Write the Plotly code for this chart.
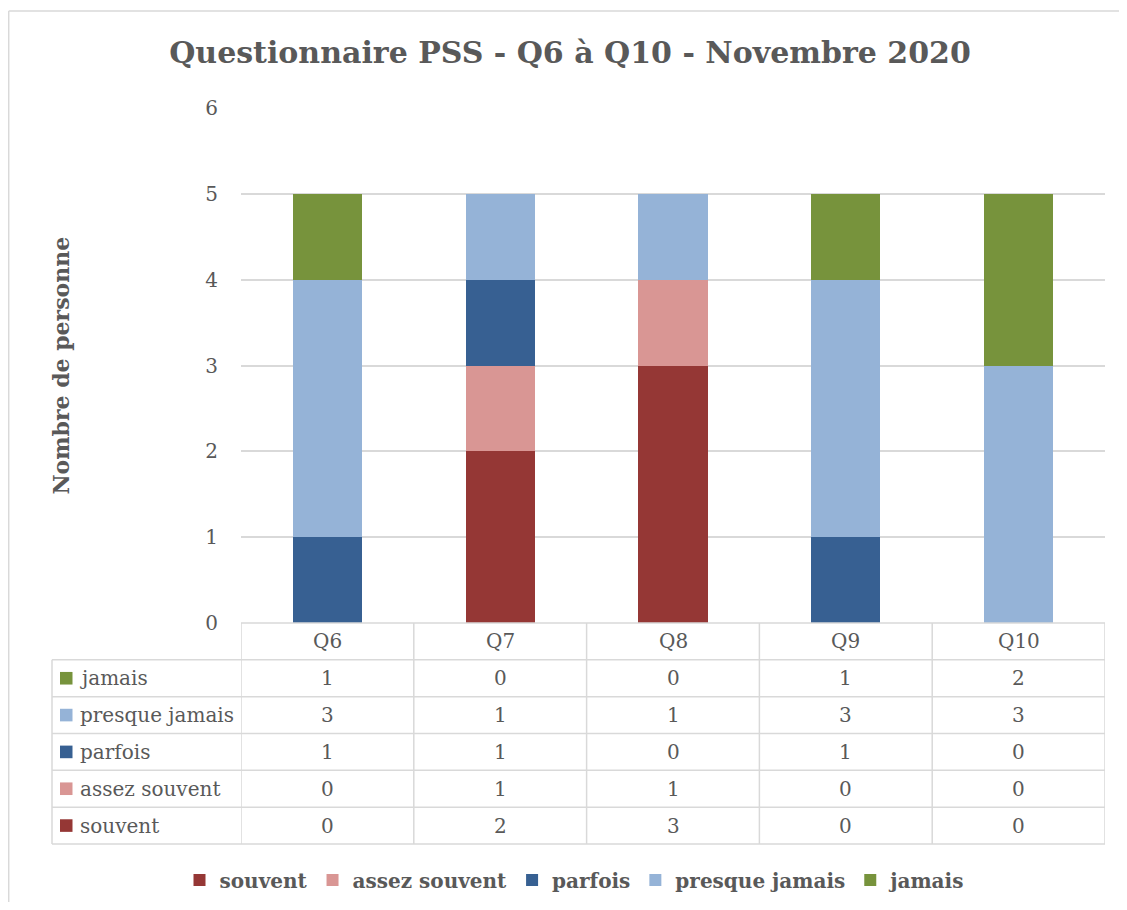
import plotly.graph_objects as go

# ---- data ----
categories = ["Q6", "Q7", "Q8", "Q9", "Q10"]
series_names = ["souvent", "assez souvent", "parfois", "presque jamais", "jamais"]
souvent = [0, 2, 3, 0, 0]
assez_souvent = [0, 1, 1, 0, 0]
parfois = [1, 1, 0, 1, 0]
presque_jamais = [3, 1, 1, 3, 3]
jamais = [1, 0, 0, 1, 2]
y_ticks = [0, 1, 2, 3, 4, 5, 6]
title_text = "Questionnaire PSS - Q6 à Q10 - Novembre 2020"
y_title = "Nombre de personne"

series_values = [souvent, assez_souvent, parfois, presque_jamais, jamais]
colors = ["#953735", "#D99694", "#376092", "#95B3D7", "#77933C"]

OFF = 8  # page body margin
W, H = 1127 - 2 * OFF, 910 - 2 * OFF
PLOT_L, PLOT_R, PLOT_T, PLOT_B = 241, 1105, 108, 623  # reference page pixels
L, T = PLOT_L - OFF, PLOT_T - OFF
R = W - (PLOT_R - OFF)
B = H - (PLOT_B - OFF)
PW, PH = W - L - R, H - T - B
TXT = "#595959"
GRID = "#D9D9D9"
FONT = "DejaVu Serif"


def px2x(px):
    # px in reference page coordinates
    return (px - OFF - L) / PW


def py2y(py):
    return (H - B - (py - OFF)) / PH


fig = go.Figure()
for name, vals, col in zip(series_names, series_values, colors):
    fig.add_trace(go.Bar(x=categories, y=vals, name=name,
                         marker=dict(color=col, line=dict(width=0))))

row_h = 36.83 / PH
shapes = []
annotations = []
line_style = dict(color=GRID, width=1.5)

# outer chart border (top and left edges visible)
shapes.append(dict(type="line", xref="paper", yref="paper",
                   x0=px2x(8.7), x1=px2x(OFF + W), y0=py2y(11), y1=py2y(11),
                   line=dict(color=GRID, width=1.5), layer="below"))
shapes.append(dict(type="line", xref="paper", yref="paper",
                   x0=px2x(8.7), x1=px2x(8.7), y0=py2y(11), y1=py2y(OFF + H),
                   line=dict(color=GRID, width=1.5), layer="below"))

# table horizontal lines
shapes.append(dict(type="line", xref="x", yref="paper", x0=-0.5, x1=len(categories) - 0.5,
                   y0=0, y1=0, line=line_style))
for k in range(1, len(series_names) + 2):
    shapes.append(dict(type="line", xref="paper", yref="paper", x0=px2x(52), x1=1,
                       y0=-k * row_h, y1=-k * row_h, line=line_style))
# vertical lines
for i in range(len(categories) + 1):
    shapes.append(dict(type="line", xref="x", yref="paper", x0=i - 0.5, x1=i - 0.5,
                       y0=0, y1=-(len(series_names) + 1) * row_h, line=line_style))
shapes.append(dict(type="line", xref="paper", yref="paper", x0=px2x(52), x1=px2x(52),
                   y0=-row_h, y1=-(len(series_names) + 1) * row_h, line=line_style))

# header labels
for c in categories:
    annotations.append(dict(x=c, y=-0.5 * row_h, xref="x", yref="paper", text=c,
                            showarrow=False, xanchor="center", yanchor="middle",
                            font=dict(family=FONT, size=20, color=TXT)))

# table rows: reversed series order
rows = list(zip(series_names, series_values, colors))[::-1]
for r, (name, vals, col) in enumerate(rows):
    yc = -(r + 1.5) * row_h
    annotations.append(dict(x=px2x(78), y=yc, xref="paper", yref="paper", text=name,
                            showarrow=False, xanchor="left", yanchor="middle",
                            font=dict(family=FONT, size=20, color=TXT)))
    s = 6.3 / PH
    shapes.append(dict(type="rect", xref="paper", yref="paper",
                       x0=px2x(60), x1=px2x(72.5), y0=yc - s, y1=yc + s,
                       fillcolor=col, line=dict(width=0)))
    for c, v in zip(categories, vals):
        annotations.append(dict(x=c, y=yc, xref="x", yref="paper", text=str(v),
                                showarrow=False, xanchor="center", yanchor="middle",
                                font=dict(family=FONT, size=20, color=TXT)))

# y axis title
annotations.append(dict(x=px2x(60), y=0.5, xref="paper", yref="paper", text="<b>" + y_title + "</b>",
                        textangle=-90, showarrow=False, xanchor="center", yanchor="middle",
                        font=dict(family=FONT, size=22, color=TXT)))

fig.update_layout(
    width=W, height=H, autosize=False,
    margin=dict(l=L, r=R, t=T, b=B),
    paper_bgcolor="white", plot_bgcolor="white",
    barmode="stack", bargap=0.6,
    title=dict(text="<b>" + title_text + "</b>", xref="container", x=(570 - OFF) / W, xanchor="center",
               yref="container", y=1 - (52 - OFF) / H, yanchor="middle",
               font=dict(family=FONT, size=30, color=TXT)),
    xaxis=dict(range=[-0.5, len(categories) - 0.5], showticklabels=False, showgrid=False,
               zeroline=False, showline=False, ticks=""),
    yaxis=dict(range=[0, 6], tickvals=y_ticks, showgrid=True, gridcolor=GRID, gridwidth=1.5,
               zeroline=False, showline=False, ticks="", ticklabelstandoff=22,
               tickfont=dict(family=FONT, size=20, color=TXT)),
    legend=dict(orientation="h", xref="container", x=(575 - OFF) / W, xanchor="center",
                yref="container", y=1 - (880 - OFF) / H, yanchor="middle",
                font=dict(family=FONT, size=20, color=TXT, weight="bold"),
                itemwidth=30, traceorder="normal"),
    shapes=shapes, annotations=annotations,
)

fig.write_html("out.html")
